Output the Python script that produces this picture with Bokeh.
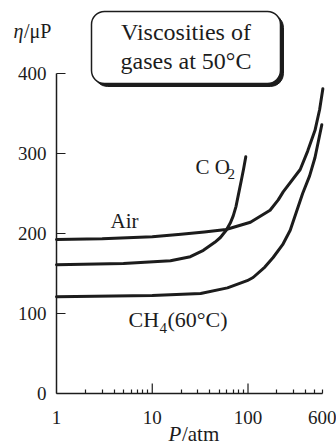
from bokeh.plotting import figure
from bokeh.models import FixedTicker, Label, BoxAnnotation, PrintfTickFormatter
from bokeh.embed import file_html
from bokeh.resources import INLINE

# Viscosity (micropoise) against pressure (atm)
air_p = [1, 3, 10, 20, 35, 59, 106, 170, 207, 233, 351, 420, 501, 560, 605]
air_eta = [192.5, 193.5, 196, 199, 202, 205, 214, 229, 242, 252, 280, 303, 329, 355, 381]

co2_p = [1, 5, 15.5, 25, 34.2, 45, 51.5, 59.2, 65.3, 70.1, 75, 79.2, 85, 90, 94.8]
co2_eta = [161, 162.5, 166, 171, 179, 189, 195, 204, 213, 222, 234, 248, 266, 281, 296]

ch4_p = [1, 10, 32, 61, 98, 113, 150, 183, 230, 276, 372, 440, 501, 590]
ch4_eta = [121, 122.5, 125, 132, 141, 145, 158, 170, 186, 204, 250, 272, 295, 336]

x_major = [1, 10, 100, 600]
x_minor = [2, 3, 4, 5, 6, 7, 8, 9, 20, 30, 40, 50, 60, 70, 80, 90, 200, 300, 400, 500, 600]
decade_ticks = [10, 100]
y_ticks = [0, 100, 200, 300, 400]

INK = "#1c1c1c"
SERIF = "Liberation Serif"

# The plotting area spans the whole canvas; the axes sit at P = 1 and eta = 0
p = figure(width=336, height=445, x_axis_type="log", x_range=(0.26, 840), y_range=(-65, 491.25),
           output_backend="svg", toolbar_location=None,
           min_border_left=0, min_border_right=0, min_border_top=0, min_border_bottom=0)
p.background_fill_color = "white"
p.border_fill_color = "white"
p.outline_line_color = None
p.xgrid.visible = False
p.ygrid.visible = False

# x axis: log scale, short inward minor ticks, longer marks at each decade
xa = p.xaxis[0]
xa.fixed_location = 0
xa.bounds = (1, 600)
xa.ticker = FixedTicker(ticks=x_major, minor_ticks=x_minor)
xa.formatter = PrintfTickFormatter(format="%d")
xa.major_tick_line_color = None
xa.minor_tick_in = 4
xa.minor_tick_out = 0
xa.minor_tick_line_color = INK
xa.minor_tick_line_width = 1.2
xa.axis_line_color = INK
xa.axis_line_width = 1.5
xa.major_label_text_font = SERIF
xa.major_label_text_font_size = "19px"
xa.major_label_text_color = INK
xa.major_label_standoff = 11

p.segment(x0=decade_ticks, y0=0, x1=decade_ticks, y1=12.5, line_color=INK, line_width=1.2)

# y axis
ya = p.yaxis[0]
ya.fixed_location = 1
ya.bounds = (0, 400)
ya.ticker = FixedTicker(ticks=y_ticks)
ya.major_tick_in = 9
ya.major_tick_out = 0
ya.major_tick_line_color = INK
ya.major_tick_line_width = 1.2
ya.minor_tick_line_color = None
ya.axis_line_color = INK
ya.axis_line_width = 1.5
ya.major_label_text_font = SERIF
ya.major_label_text_font_size = "19px"
ya.major_label_text_color = INK
ya.major_label_standoff = 10

# curves
for xs, ys in [(air_p, air_eta), (co2_p, co2_eta), (ch4_p, ch4_eta)]:
    p.line(xs, ys, line_color=INK, line_width=3, line_join="round", line_cap="round")

# boxed title with a drop shadow (drawn beneath the text)
shadow = BoxAnnotation(left=2.49, right=234.8, top=473.75, bottom=383.75,
                       fill_color=INK, fill_alpha=1, line_color=INK, line_alpha=1,
                       border_radius=13, level="underlay")
box = BoxAnnotation(left=2.32, right=218.4, top=477.5, bottom=387.5,
                    fill_color="white", fill_alpha=1, line_color=INK, line_alpha=1,
                    line_width=1.5, border_radius=13, level="underlay")
p.add_layout(shadow)
p.add_layout(box)


def text(x, y, s, size="20px", style="normal", align="left"):
    lab = Label(x=x, y=y, text=s, text_font=SERIF, text_font_size=size,
                text_font_style=style, text_color=INK, text_align=align,
                text_baseline="alphabetic")
    p.add_layout(lab)


# curve labels
text(3.66, 216, "Air", size="21px")
text(28.3, 283.75, "C O", size="21px")
text(61.1, 275, "2", size="15px")
text(5.65, 92.5, "CH", size="22px")
text(11.9, 82.5, "4", size="15px")
text(14.4, 92.5, "(60°C)", size="22px")

# axis titles
text(0.356, 453.75, "η", style="italic")
text(0.458, 453.75, "/μP")
text(14.8, -51, "P", style="italic", size="21px")
text(20.4, -51, "/atm", size="21px")

# title text
text(22.5, 451.9, "Viscosities of", size="24px", align="center")
text(22.5, 416.25, "gases at 50°C", size="24px", align="center")

open("out.html", "w").write(file_html(p, INLINE))
